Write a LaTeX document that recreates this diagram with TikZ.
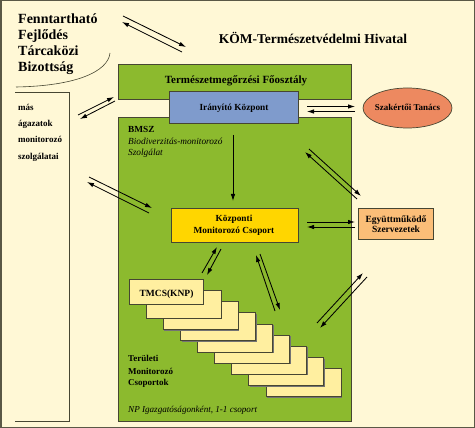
\documentclass[tikz,border=0pt]{standalone}
\usepackage{fontspec}
\setmainfont{Liberation Serif}
\usetikzlibrary{arrows.meta,shapes.geometric,shadows}
\definecolor{cream}{RGB}{255,248,214}
\definecolor{grn}{RGB}{140,186,46}
\definecolor{blu}{RGB}{127,155,204}
\definecolor{gold}{RGB}{255,214,0}
\definecolor{stackc}{RGB}{255,239,160}
\definecolor{orng}{RGB}{251,190,120}
\definecolor{salmon}{RGB}{237,137,96}
\definecolor{edge}{RGB}{70,70,50}
\definecolor{frame}{RGB}{90,88,70}
\begin{document}
\begin{tikzpicture}[x=1pt,y=-1pt,
  box/.style={draw=edge, line width=0.7pt, inner sep=0pt},
  arr/.style={-{Latex[length=7pt,width=4.5pt]}, line width=0.85pt},
  bl/.style={font=\bfseries\fontsize{9.3}{11.5}\selectfont, inner sep=0pt, align=center},
  it/.style={font=\itshape\fontsize{9.3}{11}\selectfont, inner sep=0pt, anchor=base west},
  lb/.style={font=\bfseries\fontsize{9}{11}\selectfont, inner sep=0pt, anchor=base west},
  big/.style={font=\bfseries\fontsize{14}{16}\selectfont, inner sep=0pt, anchor=base west},
  stk/.style={draw=edge, line width=0.6pt, fill=stackc, inner sep=0pt,
    drop shadow={shadow xshift=1.2pt, shadow yshift=-1.2pt, fill=black!55, opacity=1}}]
\useasboundingbox (0,0) rectangle (475,428);
\draw[fill=cream, draw=frame, line width=1.5pt] (0.75,0.75) rectangle (474.25,427.25);

% top-left committee
\node[big] (f1) at (18,23.5) {Fenntartható};
\node[big] (f2) at (18,39.5) {Fejlődés};
\node[big] (f3) at (18,55.5) {Tárcaközi};
\node[big] (f4) at (18,71.5) {Bizottság};
\coordinate (arcA) at (16,87);
\coordinate (arcB) at (110,53);
\draw[edge, line width=0.6pt] (arcA) .. controls (75,86) and (108,72) .. (arcB);

% title
\node[font=\bfseries\fontsize{13.5}{16}\selectfont, inner sep=0pt, anchor=base] (kom) at (313,44) {KÖM-Természetvédelmi Hivatal};

% left bracket box
\coordinate (lbA) at (15,92);
\coordinate (lbB) at (69,92);
\coordinate (lbC) at (69,421);
\coordinate (lbD) at (15,421);
\draw[edge, line width=0.7pt] (lbA) -- (lbB) -- (lbC) -- (lbD);
\node[lb] (m1) at (18,110.5) {más};
\node[lb] (m2) at (18,126.5) {ágazatok};
\node[lb] (m3) at (18,143) {monitorozó};
\node[lb] (m4) at (18,159.5) {szolgálatai};

% green boxes
\node[box, fill=grn, minimum width=233pt, minimum height=35pt] (tfo) at (234.5,81.5) {};
\node[box, fill=grn, minimum width=233pt, minimum height=304pt] (bmsz) at (234.5,269) {};
\node[font=\bfseries\fontsize{11}{13}\selectfont, inner sep=0pt, anchor=base] (tfotxt) at (236,83.5) {Természetmegőrzési Főosztály};

% Irányító Központ
\node[box, fill=blu, minimum width=129pt, minimum height=32pt] (ik) at (233.5,107) {};
\node[bl, anchor=base] (iktxt) at (234,111) {Irányító Központ};

% Szakértői Tanács
\node[ellipse, draw=edge, line width=0.7pt, fill=salmon, minimum width=89pt, minimum height=40pt, inner sep=0pt] (szt) at (407.5,108) {};
\node[bl, anchor=base, font=\bfseries\fontsize{9}{11}\selectfont] (szttxt) at (407.5,110.5) {Szakértői Tanács};

% BMSZ texts
\node[lb, font=\bfseries\fontsize{9.3}{11}\selectfont] (b1) at (128,133) {BMSZ};
\node[it] (b2) at (128,144.5) {Biodiverzitás-monitorozó};
\node[it] (b3) at (128,155.5) {Szolgálat};

% Központi Monitorozó Csoport
\node[box, fill=gold, minimum width=127pt, minimum height=34pt] (kmcs) at (234.5,225) {};
\node[bl, anchor=center] (kmcstxt) at (234,225.5) {Központi\\Monitorozó Csoport};

% Együttműködő Szervezetek
\node[box, fill=orng, minimum width=75pt, minimum height=31pt] (esz) at (395.5,223.5) {};
\node[bl, anchor=center, font=\bfseries\fontsize{9.5}{10.5}\selectfont] (esztxt) at (396,224) {Együttműködő\\Szervezetek};

% stack of regional groups
\foreach \i in {8,7,...,1} {
  \node[stk, minimum width=75pt, minimum height=28pt] (s\i) at ({166.5+17.1*\i},{293+11.2*\i}) {};
}
\node[stk, minimum width=74pt, minimum height=25pt] (tmcs) at (166,291.5) {};
\node[bl, anchor=base, font=\bfseries\fontsize{9.5}{11}\selectfont] (tmcstxt) at (166.5,296.5) {TMCS(KNP)};

\node[lb] (t1) at (128,362) {Területi};
\node[lb] (t2) at (128,374) {Monitorozó};
\node[lb] (t3) at (128,385.5) {Csoportok};
\node[it, font=\itshape\fontsize{9.1}{11}\selectfont] (np) at (128,412) {NP Igazgatóságonként, 1-1 csoport};

% arrows
\coordinate (a1s) at (123,16);  \coordinate (a1e) at (186,47);
\coordinate (a1t) at (182,52);  \coordinate (a1u) at (122,22);
\draw[arr] (a1s) -- (a1e);
\draw[arr] (a1t) -- (a1u);

\coordinate (a2s) at (78,115);  \coordinate (a2e) at (114,97);
\coordinate (a2t) at (115,101); \coordinate (a2u) at (80,119);
\draw[arr] (a2s) -- (a2e);
\draw[arr] (a2t) -- (a2u);

\coordinate (a3s) at (307,106.5); \coordinate (a3e) at (355,106.5);
\coordinate (a3t) at (355,111.5); \coordinate (a3u) at (307,111.5);
\draw[arr] (a3s) -- (a3e);
\draw[arr] (a3t) -- (a3u);

\coordinate (a4s) at (233,135); \coordinate (a4e) at (233,201);
\draw[arr] (a4s) -- (a4e);

\coordinate (a5s) at (89,177);  \coordinate (a5e) at (152,208);
\coordinate (a5t) at (149,213); \coordinate (a5u) at (87,182);
\draw[arr] (a5s) -- (a5e);
\draw[arr] (a5t) -- (a5u);

\coordinate (a6s) at (309,149); \coordinate (a6e) at (361,196);
\coordinate (a6t) at (357,199); \coordinate (a6u) at (305,152);
\draw[arr] (a6s) -- (a6e);
\draw[arr] (a6t) -- (a6u);

\coordinate (a7s) at (307,222); \coordinate (a7e) at (355,222);
\coordinate (a7t) at (355,227); \coordinate (a7u) at (307,227);
\draw[arr] (a7s) -- (a7e);
\draw[arr] (a7t) -- (a7u);

\coordinate (a8s) at (202,273); \coordinate (a8e) at (217,247);
\coordinate (a8t) at (221,249); \coordinate (a8u) at (207,275);
\draw[arr] (a8s) -- (a8e);
\draw[arr] (a8t) -- (a8u);

\coordinate (a9s) at (275,311); \coordinate (a9e) at (256,255);
\coordinate (a9t) at (260,254); \coordinate (a9u) at (280,310);
\draw[arr] (a9s) -- (a9e);
\draw[arr] (a9t) -- (a9u);

\coordinate (a10s) at (317,323); \coordinate (a10e) at (363,273);
\coordinate (a10t) at (367,277); \coordinate (a10u) at (320,328);
\draw[arr] (a10s) -- (a10e);
\draw[arr] (a10t) -- (a10u);
\end{tikzpicture}
\end{document}
